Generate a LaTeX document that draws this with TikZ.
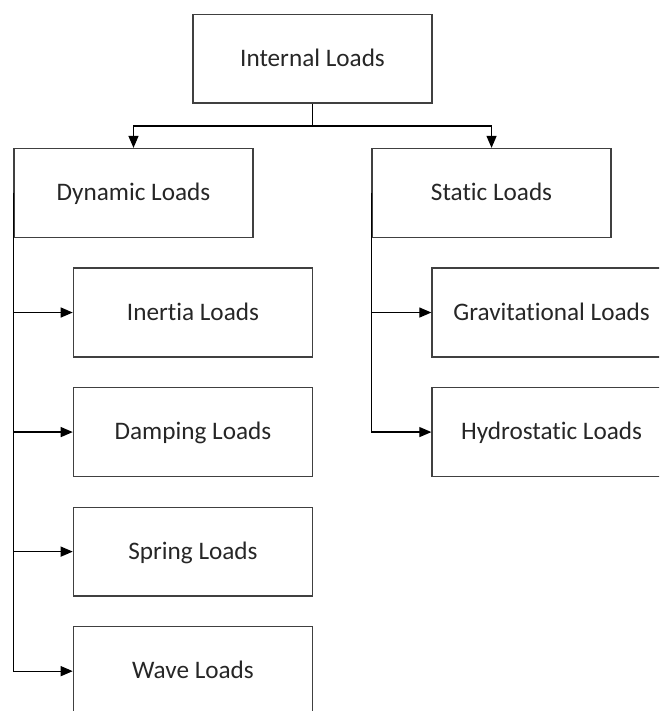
\documentclass[tikz,border=0pt]{standalone}
\usepackage{fontspec}
\setmainfont{Carlito}[Ligatures={NoCommon}]
\usetikzlibrary{arrows.meta}
\tikzstyle{loadbox} = [rectangle, minimum width=4.2cm, minimum height=1.56cm, text centered, text height=1.9ex, text depth=0.3ex, draw=black!75, line width=0.7pt, text=black!85, font=\fontsize{12.6}{15}\selectfont]
\tikzstyle{arrow} = [line width=0.6pt, ->, >={Triangle[length=6pt, width=5pt]}]

\begin{document}
\begin{tikzpicture}[node distance=2.1cm]
	\useasboundingbox (0,0) rectangle (11.58,-12.49);
	\clip (0,0) rectangle (11.58,-12.49);

	\node (internal) [loadbox] at (5.49,-1.03) {Internal Loads};
	\node (dynamic) [loadbox, below of=internal, xshift=-3.145cm, yshift=-0.26cm] {Dynamic Loads};
	\node (static) [loadbox, below of=internal, xshift=3.145cm, yshift=-0.26cm] {Static Loads};

	\draw [arrow] (internal.south) -- ++ (0,-0.39cm) -| (dynamic.north);
	\draw [arrow] (internal.south) -- ++ (0,-0.39cm) -| (static.north);

	\node (inertia) [loadbox, below of=dynamic, xshift=1.045cm] {Inertia Loads};
	\node (damping) [loadbox, below of=inertia] {Damping Loads};
	\node (spring) [loadbox, below of=damping] {Spring Loads};
	\node (wave) [loadbox, below of=spring] {Wave Loads};

	\draw [arrow] (dynamic.west) |- (inertia.west);
	\draw [arrow] (dynamic.west) |- (damping.west);
	\draw [arrow] (dynamic.west) |- (spring.west);
	\draw [arrow] (dynamic.west) |- (wave.west);

	\node (gravitational) [loadbox, below of=static, xshift=1.055cm] {Gravitational Loads};
	\node (hydrostatic) [loadbox, below of=gravitational] {Hydrostatic Loads};

	\draw [arrow] (static.west) |- (gravitational.west);
	\draw [arrow] (static.west) |- (hydrostatic.west);
\end{tikzpicture}
\end{document}
